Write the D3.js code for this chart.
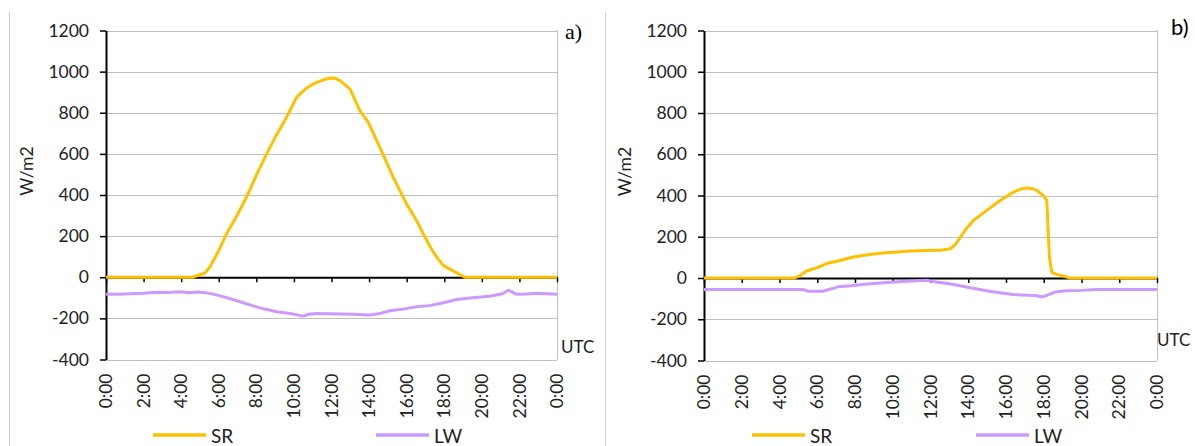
<!DOCTYPE html>
<html>
<head>
<meta charset="utf-8">
<script src="https://cdn.jsdelivr.net/npm/d3@7"></script>
<style>
  body { margin: 0; background: #fff; }
  svg { display: block; }
</style>
</head>
<body>
<div id="chart"></div>
<script>
// Hour ticks and value ticks shared by both panels
const hourTicks = [0, 2, 4, 6, 8, 10, 12, 14, 16, 18, 20, 22, 24];
const valueTicks = [-400, -200, 0, 200, 400, 600, 800, 1000, 1200];
const seriesNames = ["SR", "LW"];

// Panel a) - shortwave radiation
const srHoursA = [0, 4.6, 5.0, 5.27, 5.53, 6.0, 6.42, 7.0, 7.48, 8.0, 8.55, 9.0, 9.61, 10.14, 10.6, 11.03, 11.5, 11.91, 12.2, 12.45, 12.98, 13.51, 13.95, 14.57, 15.28, 15.99, 16.5, 16.88, 17.3, 17.59, 17.94, 18.47, 19.1, 24];
const srValuesA = [0, 0, 12, 20, 50, 130, 212, 305, 390, 495, 600, 680, 778, 875, 915, 940, 958, 969, 968, 956, 916, 810, 754, 633, 487, 358, 280, 212, 140, 99, 58, 31, 0, 0];
// Panel a) - longwave
const lwHoursA = [0, 0.6, 1.28, 2.0, 2.7, 3.3, 3.94, 4.4, 4.9, 5.36, 6.0, 6.6, 7.3, 8.0, 8.5, 9.08, 9.8, 10.5, 10.8, 11.2, 11.8, 12.45, 13.2, 13.6, 14.04, 14.5, 15.1, 15.8, 16.5, 17.2, 17.9, 18.65, 19.5, 20.4, 21.1, 21.4, 21.85, 22.4, 22.9, 24];
const lwValuesA = [-83, -83, -80, -78, -73, -74, -71, -75, -72, -76, -88, -104, -124, -144, -156, -168, -176, -189, -180, -176, -178, -179, -180, -182, -184, -178, -163, -155, -144, -138, -125, -108, -100, -92, -80, -63, -83, -82, -78, -83];

// Panel b) - shortwave radiation
const srHoursB = [0, 4.8, 5.1, 5.44, 6.0, 6.5, 7.2, 7.91, 8.6, 9.33, 10.04, 10.9, 11.7, 12.5, 13.04, 13.3, 13.57, 13.9, 14.27, 14.98, 15.69, 16.39, 16.8, 17.1, 17.4, 17.63, 17.98, 18.16, 18.2, 18.25, 18.3, 18.42, 18.6, 19.4, 24];
const srValuesB = [0, 0, 12, 34, 50, 70, 85, 102, 112, 120, 125, 131, 133, 134, 142, 160, 196, 240, 279, 328, 376, 416, 432, 436, 433, 425, 400, 376, 300, 200, 102, 29, 20, 0, 0];
// Panel b) - longwave
const lwHoursB = [0, 5.26, 5.5, 6.3, 7.1, 7.8, 8.5, 9.2, 9.9, 10.5, 11.1, 11.8, 12.3, 13.0, 13.7, 14.4, 15.1, 15.7, 16.36, 17.2, 17.6, 17.95, 18.6, 19.2, 20.0, 20.8, 24];
const lwValuesB = [-56, -56, -64, -64, -43, -38, -30, -26, -21, -17, -14, -11, -19, -28, -40, -52, -64, -72, -80, -84, -85, -92, -68, -62, -60, -56, -56];

const W = 1195, H = 446;
const font = "Lato, 'Open Sans', sans-serif";
const textColor = "#222";
const colors = { SR: "#FFC000", LW: "#CC99FF" };

const panels = [
  {
    label: "a)", labelFont: "'Liberation Serif', 'DejaVu Serif', serif", labelX: 565, labelY: 39,
    left: 106, right: 557, top: 30.5, bottom: 359.5,
    yTitleX: 27, utcX: 561, utcY: 353, legendX: [153, 376],
    sr: srHoursA.map((h, i) => [h, srValuesA[i]]),
    lw: lwHoursA.map((h, i) => [h, lwValuesA[i]])
  },
  {
    label: "b)", labelFont: font, labelX: 1171, labelY: 35,
    left: 704, right: 1157, top: 30.5, bottom: 360.5,
    yTitleX: 625, utcX: 1157, utcY: 346, legendX: [752, 976],
    sr: srHoursB.map((h, i) => [h, srValuesB[i]]),
    lw: lwHoursB.map((h, i) => [h, lwValuesB[i]])
  }
];

const svg = d3.select("#chart").append("svg")
  .attr("width", W)
  .attr("height", H);

// Thin frame lines of the original chart boxes
[9.5, 605.5].forEach(x => {
  svg.append("line")
    .attr("x1", x).attr("x2", x)
    .attr("y1", 12).attr("y2", H)
    .style("stroke", "#d0d0d0")
    .style("stroke-width", 1);
});

const hourFormat = h => `${h % 24}:00`;
const valueFormat = v => String(v); // plain hyphen minus, no thousands separator

panels.forEach(p => {
  const x = d3.scaleLinear().domain([0, 24]).range([p.left, p.right]);
  const y = d3.scaleLinear().domain([-400, 1200]).range([p.bottom, p.top]);
  const g = svg.append("g");

  // Gridlines
  g.append("g")
    .selectAll("line")
    .data(valueTicks.filter(v => v !== 0))
    .enter()
    .append("line")
    .attr("x1", p.left).attr("x2", p.right)
    .attr("y1", d => Math.round(y(d)) + 0.5).attr("y2", d => Math.round(y(d)) + 0.5)
    .style("stroke", "#bfbfbf")
    .style("stroke-width", 1);

  // Right border of plot area
  g.append("line")
    .attr("x1", p.right + 0.5).attr("x2", p.right + 0.5)
    .attr("y1", y(1200)).attr("y2", y(-400))
    .style("stroke", "#bfbfbf")
    .style("stroke-width", 1);

  // Y axis
  const yAxis = d3.axisLeft(y)
    .tickValues(valueTicks)
    .tickSize(6)
    .tickSizeOuter(0)
    .tickPadding(11)
    .tickFormat(valueFormat);

  const yg = g.append("g")
    .attr("transform", `translate(${p.left}, 0)`)
    .call(yAxis);
  yg.select("path.domain").style("stroke", "#000").style("stroke-width", 2);
  yg.selectAll(".tick line").style("stroke", "#000").style("stroke-width", 1.5);
  yg.selectAll("text")
    .style("font-family", font)
    .style("font-size", "17.5px")
    .style("fill", textColor);

  // X axis drawn at zero
  const xAxis = d3.axisBottom(x)
    .tickValues(hourTicks)
    .tickSize(5)
    .tickSizeOuter(0)
    .tickFormat("");

  const xg = g.append("g")
    .attr("transform", `translate(0, ${y(0)})`)
    .call(xAxis);
  xg.select("path.domain").style("stroke", "#000").style("stroke-width", 2);
  xg.selectAll(".tick line").style("stroke", "#000").style("stroke-width", 1.5);

  // Rotated hour labels below plot area
  g.append("g")
    .selectAll("text")
    .data(hourTicks)
    .enter()
    .append("text")
    .attr("transform", d => `translate(${x(d)}, ${p.bottom + 14}) rotate(-90)`)
    .attr("dy", "0.35em")
    .attr("text-anchor", "end")
    .style("font-family", font)
    .style("font-size", "17.5px")
    .style("fill", textColor)
    .text(hourFormat);

  // Y title
  g.append("text")
    .attr("transform", `translate(${p.yTitleX}, ${(p.top + p.bottom) / 2 - 24}) rotate(-90)`)
    .attr("dy", "0.35em")
    .attr("text-anchor", "middle")
    .style("font-family", font)
    .style("font-size", "17.5px")
    .style("fill", textColor)
    .text("W/m2");

  // UTC label
  g.append("text")
    .attr("x", p.utcX)
    .attr("y", p.utcY)
    .style("font-family", font)
    .style("font-size", "17px")
    .style("fill", textColor)
    .text("UTC");

  // Panel label
  g.append("text")
    .attr("x", p.labelX)
    .attr("y", p.labelY)
    .style("font-family", p.labelFont)
    .style("font-size", "22px")
    .style("fill", "#000")
    .text(p.label);

  // Series lines
  const line = d3.line()
    .x(d => x(d[0]))
    .y(d => y(d[1]));

  g.append("path")
    .datum(p.lw)
    .attr("d", line)
    .style("fill", "none")
    .style("stroke", colors.LW)
    .style("stroke-width", 3)
    .style("stroke-linejoin", "round");

  g.append("path")
    .datum(p.sr)
    .attr("d", line)
    .style("fill", "none")
    .style("stroke", colors.SR)
    .style("stroke-width", 3)
    .style("stroke-linejoin", "round");

  // Legend (cut by the bottom edge, as in the original)
  seriesNames.forEach((name, i) => {
    const lx = p.legendX[i];
    g.append("line")
      .attr("x1", lx).attr("x2", lx + 53)
      .attr("y1", 435).attr("y2", 435)
      .style("stroke", colors[name])
      .style("stroke-width", 3.5);
    g.append("text")
      .attr("x", lx + 58)
      .attr("y", 443)
      .style("font-family", font)
      .style("font-size", "19px")
      .style("fill", textColor)
      .text(name);
  });
});
</script>
</body>
</html>
